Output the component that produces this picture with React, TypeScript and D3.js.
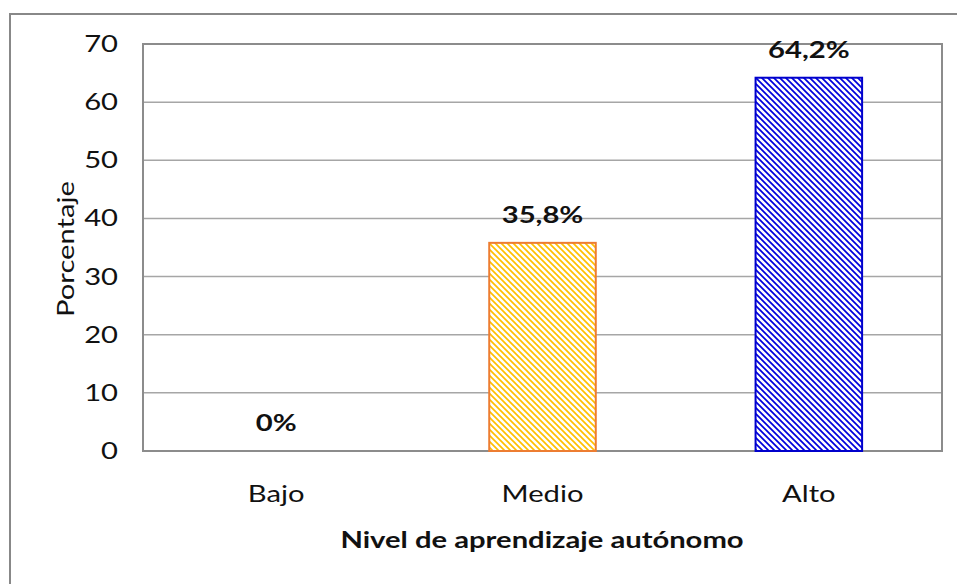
import React from "react";
import * as d3 from "d3";

const categories = ["Bajo", "Medio", "Alto"];
const values = [0, 35.8, 64.2];
const valueLabels = ["0%", "35,8%", "64,2%"];
const yTicks = [0, 10, 20, 30, 40, 50, 60, 70];
const strokeColors = ["#ED7D31", "#ED7D31", "#0000CC"];
const hatchColors = ["#FFC000", "#FFC000", "#0000DD"];

const W = 957;
const H = 584;
const plot = { left: 143, top: 44, right: 942, bottom: 451 };
const FONT = "Lato, 'Open Sans', sans-serif";
const SX = 1.27;

function T({
  x,
  y,
  anchor = "middle",
  bold = false,
  size = 23,
  rotate = 0,
  children,
}: {
  x: number;
  y: number;
  anchor?: "start" | "middle" | "end";
  bold?: boolean;
  size?: number;
  rotate?: number;
  children: React.ReactNode;
}) {
  return (
    <text
      transform={`translate(${x},${y}) rotate(${rotate}) scale(${SX},1)`}
      dy="0.35em"
      textAnchor={anchor}
      fontFamily={FONT}
      fontWeight={bold ? "bold" : "normal"}
      fontSize={size}
      fill="#111"
    >
      {children}
    </text>
  );
}

export default function App() {
  const x = d3
    .scaleBand<string>()
    .domain(categories)
    .range([plot.left, plot.right])
    .paddingInner(0.6)
    .paddingOuter(0.3);
  const y = d3.scaleLinear().domain([0, 70]).range([plot.bottom, plot.top]);

  return (
    <svg
      width={W}
      height={H}
      style={{ position: "absolute", left: 0, top: 0, display: "block", background: "#fff" }}
    >
      <defs>
        {categories.map((c, i) => (
          <pattern
            key={c}
            id={`hatch${i}`}
            patternUnits="userSpaceOnUse"
            width={6}
            height={6}
          >
            <rect width={6} height={6} fill="#fff" />
            <path
              d="M0,0 L6,6 M-3,3 L3,9 M3,-3 L9,3"
              stroke={hatchColors[i]}
              strokeWidth={1.7}
            />
          </pattern>
        ))}
      </defs>
      <rect x={10} y={14} width={W} height={H} fill="#fff" stroke="#888" strokeWidth={2} />
      {yTicks.map((t) => (
        <line
          key={t}
          x1={plot.left}
          x2={plot.right}
          y1={y(t)}
          y2={y(t)}
          stroke="#A6A6A6"
          strokeWidth={1.5}
        />
      ))}
      <rect
        x={plot.left}
        y={plot.top}
        width={plot.right - plot.left}
        height={plot.bottom - plot.top}
        fill="none"
        stroke="#8C8C8C"
        strokeWidth={2}
      />
      {categories.map((c, i) =>
        values[i] > 0 ? (
          <rect
            key={c}
            x={x(c)!}
            y={y(values[i])}
            width={x.bandwidth()}
            height={y(0) - y(values[i])}
            fill={`url(#hatch${i})`}
            stroke={strokeColors[i]}
            strokeWidth={2}
          />
        ) : null
      )}
      {categories.map((c, i) => (
        <T key={c} x={x(c)! + x.bandwidth() / 2} y={y(values[i]) - 28} bold>
          {valueLabels[i]}
        </T>
      ))}
      {yTicks.map((t) => (
        <T key={t} x={118} y={y(t)} anchor="end">
          {t}
        </T>
      ))}
      {categories.map((c) => (
        <T key={c} x={x(c)! + x.bandwidth() / 2} y={494}>
          {c}
        </T>
      ))}
      <T x={542} y={540} bold>
        Nivel de aprendizaje autónomo
      </T>
      <T x={66} y={249} rotate={-90}>
        Porcentaje
      </T>
    </svg>
  );
}
